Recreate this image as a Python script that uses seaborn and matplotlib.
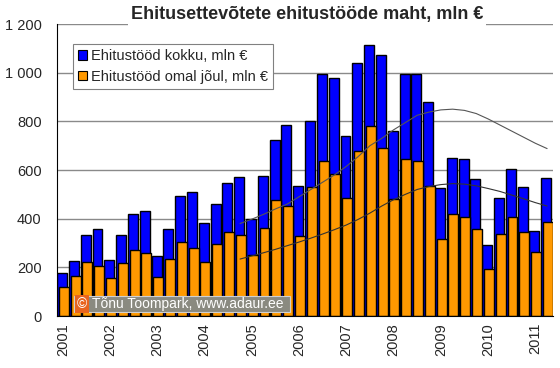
import matplotlib
matplotlib.use("Agg")
import matplotlib.pyplot as plt
import matplotlib.ticker as mticker
from matplotlib.patches import Patch, Rectangle
import numpy as np
import pandas as pd
import seaborn as sns

# quarterly data 2001 Q1 .. 2011 Q2 (mln EUR)
years = ['2001', '2002', '2003', '2004', '2005', '2006',
         '2007', '2008', '2009', '2010', '2011']
total = [178, 227, 334, 356, 230, 332, 421, 433, 247, 358, 493, 508,
         381, 459, 548, 571, 399, 577, 723, 784, 533, 801, 996, 980,
         741, 1041, 1115, 1074, 760, 996, 996, 880, 526, 648, 645, 562,
         290, 486, 603, 529, 349, 568]
own = [118, 164, 221, 205, 155, 216, 270, 258, 162, 234, 305, 281,
       221, 295, 344, 334, 249, 363, 478, 453, 330, 531, 637, 582,
       486, 677, 780, 692, 482, 644, 637, 536, 316, 419, 406, 358,
       195, 337, 408, 344, 264, 386]

# trend curves (quarter index 15 .. 41)
trend_start = 15
trend_total = [380, 398, 418, 440, 460, 490, 520, 550, 580, 615, 655, 700,
               730, 765, 795, 825, 838, 847, 850, 845, 832, 810, 785, 760,
               735, 710, 688]
trend_own = [234, 247, 260, 274, 289, 304, 320, 337, 355, 374, 397, 423,
             452, 478, 500, 520, 532, 540, 544, 542, 535, 524, 512, 497,
             482, 466, 452]

df = pd.DataFrame({'q': np.arange(len(total)), 'total': total, 'own': own})
tr = pd.DataFrame({'q': np.arange(trend_start, trend_start + len(trend_total)),
                   'total': trend_total, 'own': trend_own})

sns.set_style('white')
plt.rcParams['font.family'] = ['Liberation Sans', 'DejaVu Sans']

fig = plt.figure(figsize=(5.6, 3.68), dpi=100)
ax = fig.add_axes([57 / 560, 1 - 316 / 368, 496 / 560, 292 / 368])

blue = '#0000FF'
orange = '#FF9900'

ax.grid(axis='y', color='#8a8a8a', lw=1)
ax.set_axisbelow(True)

sns.barplot(x=df['q'] - 0.07, y=df['total'], native_scale=True, width=0.84,
            color=blue, edgecolor='black', linewidth=1, saturation=1, ax=ax)
sns.barplot(x=df['q'] + 0.07, y=df['own'], native_scale=True, width=0.84,
            color=orange, edgecolor='black', linewidth=1, saturation=1, ax=ax)

sns.lineplot(data=tr, x='q', y='total', color='#555555', lw=0.8, ax=ax)
sns.lineplot(data=tr, x='q', y='own', color='#333333', lw=0.8, ax=ax)

ax.set_xlim(-0.5, len(total) - 0.5)
ax.set_ylim(0, 1200)
ax.yaxis.set_major_locator(mticker.MultipleLocator(200))
ax.yaxis.set_major_formatter(mticker.FuncFormatter(
    lambda v, p: f'{int(v):,}'.replace(',', ' ')))
ax.set_xticks(np.arange(0, len(total), 4))
ax.set_xticklabels(years, rotation=90)
ax.set_xticks(np.arange(len(total) + 1) - 0.5, minor=True)
ax.tick_params(axis='x', which='major', length=0, labelsize=10.5, pad=5)
ax.tick_params(axis='x', which='minor', length=4, width=0.8, color='black')
ax.tick_params(axis='y', length=4, width=0.8, color='black', labelsize=10.5, pad=7)
ax.set_xlabel('')
ax.set_ylabel('')
for s in ['top', 'right']:
    ax.spines[s].set_visible(False)
for s in ['left', 'bottom']:
    ax.spines[s].set_color('black')
    ax.spines[s].set_linewidth(0.8)

handles = [Patch(facecolor=blue, edgecolor='black', lw=0.8),
           Patch(facecolor=orange, edgecolor='black', lw=0.8)]
leg = ax.legend(handles, ['Ehitustööd kokku, mln €', 'Ehitustööd omal jõul, mln €'],
                loc='upper left', bbox_to_anchor=(16 / 496, 1 - 20 / 292),
                fontsize=10.5, frameon=True, fancybox=False, framealpha=1,
                edgecolor='#808080', handlelength=0.6, handleheight=0.6,
                handletextpad=0.3, labelspacing=0.45, borderpad=0.35,
                borderaxespad=0)
leg.get_frame().set_linewidth(0.8)

fig.text(307 / 560, 1 - 15 / 368, 'Ehitusettevõtete ehitustööde maht, mln €',
         ha='center', va='center', fontsize=13, fontweight='bold',
         bbox=dict(facecolor='white', edgecolor='none', pad=2))

# copyright label
fig.patches.append(Rectangle((74 / 560, 1 - 312 / 368), 216 / 560, 16 / 368,
                             transform=fig.transFigure, facecolor='#8a8a80',
                             edgecolor='#d0d0d0', lw=0.8, zorder=5))
fig.text(92 / 560, 1 - 304 / 368, 'Tõnu Toompark, www.adaur.ee',
         ha='left', va='center', fontsize=10, color='white', zorder=6)
fig.text(82 / 560, 1 - 304 / 368, '©', ha='center', va='center', fontsize=10,
         color='white', zorder=6,
         bbox=dict(facecolor='#e8641e', edgecolor='none', pad=1.2))

fig.savefig('out.png', dpi=100)
